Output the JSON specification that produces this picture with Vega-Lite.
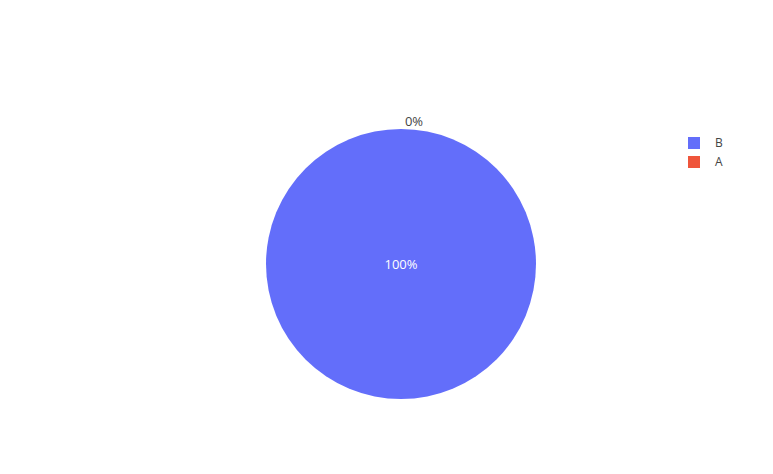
{
  "$schema": "https://vega.github.io/schema/vega-lite/v6.json",
  "width": 642,
  "height": 328,
  "autosize": {"type": "none"},
  "padding": {"left": 80, "top": 100, "right": 51, "bottom": 46},
  "background": "white",
  "config": {
    "view": {"stroke": null},
    "font": "Open Sans",
    "text": {"font": "Open Sans", "fontSize": 13}
  },
  "params": [
    {"name": "value", "value": "0", "bind": {"input": "text", "name": " "}}
  ],
  "data": {
    "values": [
      {"label": "B", "value": 1},
      {"label": "A", "value": 0}
    ]
  },
  "transform": [
    {"joinaggregate": [{"op": "sum", "field": "value", "as": "total"}]},
    {"calculate": "format(datum.value / datum.total, '.0%')", "as": "pct"}
  ],
  "encoding": {
    "theta": {"field": "value", "type": "quantitative", "stack": true},
    "detail": {"field": "label"}
  },
  "layer": [
    {
      "mark": {"type": "arc", "outerRadius": 135},
      "encoding": {
        "color": {
          "field": "label",
          "type": "nominal",
          "scale": {"domain": ["B", "A"], "range": ["#636efa", "#EF553B"]},
          "legend": {
            "title": null,
            "orient": "none",
            "legendX": 608,
            "legendY": 37,
            "symbolType": "square",
            "symbolSize": 144,
            "symbolStrokeWidth": 0,
            "labelFont": "Open Sans",
            "labelFontSize": 12,
            "labelColor": "#444",
            "labelOffset": 15,
            "rowPadding": 7,
            "padding": 0
          }
        }
      }
    },
    {
      "mark": {"type": "text", "radius": 0, "dy": 1, "color": "white"},
      "encoding": {
        "text": {
          "condition": {"test": "datum.label === 'B'", "field": "pct"},
          "value": ""
        }
      }
    },
    {
      "mark": {"type": "text", "radius": 143, "dx": 13, "dy": 1, "color": "#444"},
      "encoding": {
        "text": {
          "condition": {"test": "datum.label === 'A'", "field": "pct"},
          "value": ""
        }
      }
    }
  ]
}
